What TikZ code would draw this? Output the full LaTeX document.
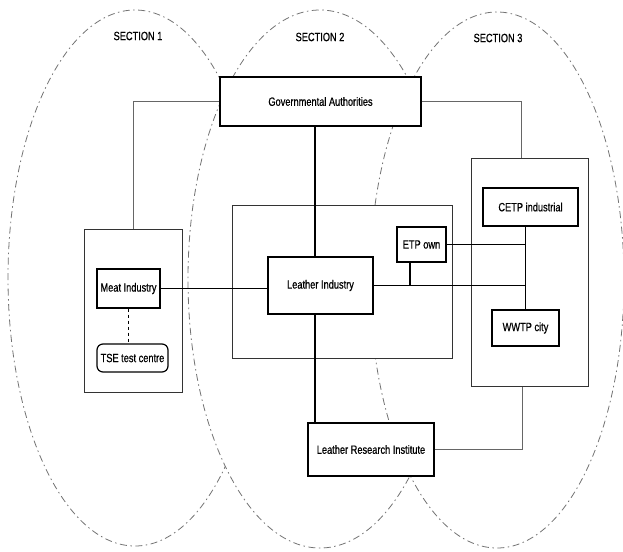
\documentclass[tikz,border=0pt]{standalone}
\usepackage{fontspec}
\setmainfont{Liberation Sans}[FakeStretch=0.77,FakeBold=0.6]
\usetikzlibrary{calc}

\begin{document}
\begin{tikzpicture}[x=1pt,y=-1pt,every node/.style={font=\fontsize{12}{14}\selectfont}]
  \tikzstyle{section}=[draw=black!55,fill=white,line width=0.8pt,
    dash pattern=on 7pt off 3.5pt on 1.5pt off 3.5pt]
  \tikzstyle{unit}=[draw,fill=white,line width=1.2pt,inner sep=2pt]
  \tikzstyle{group}=[draw=black!80,fill=white,line width=1pt]
  \tikzstyle{link}=[line width=1.1pt]
  \tikzstyle{side link}=[draw=black!60,line width=0.8pt]

  \useasboundingbox (0,0) rectangle (623,551);

  % the three sections, back to front
  \draw[section] (135,278) ellipse [x radius=127pt, y radius=268pt];
  \draw[section] (320,279) ellipse [x radius=132pt, y radius=269pt];
  \draw[section] (497,280) ellipse [x radius=127pt, y radius=268pt];

  \node (sec1) at (138,36) {SECTION 1};
  \node (sec2) at (320,37) {SECTION 2};
  \node (sec3) at (498,38) {SECTION 3};

  % groups
  \node [group, minimum width=98pt, minimum height=163pt] (meatgroup) at (133,310.5) {};
  \node [group, minimum width=220pt, minimum height=153pt] (leathergroup) at (342,281.5) {};
  \node [group, minimum width=117pt, minimum height=228pt] (wastegroup) at (529.5,272) {};

  % units
  \node [unit, minimum width=201pt, minimum height=49pt] (gov) at (320.5,101.5) {Governmental Authorities};
  \node [unit, minimum width=63pt, minimum height=39pt] (meat) at (128.5,288.5) {Meat Industry};
  \node [unit, rounded corners=6pt, minimum width=71pt, minimum height=28pt] (tse) at (132.5,358) {TSE test centre};
  \node [unit, line width=2pt, minimum width=105pt, minimum height=57pt] (leather) at (320.5,285.5) {Leather Industry};
  \node [unit, minimum width=49pt, minimum height=35pt] (etp) at (421.5,244.5) {ETP own};
  \node [unit, minimum width=95pt, minimum height=38pt] (cetp) at (530.5,207) {CETP industrial};
  \node [unit, minimum width=67pt, minimum height=36pt] (wwtp) at (525.5,328) {WWTP city};
  \node [unit, minimum width=126pt, minimum height=53pt] (lri) at (371,449.5) {Leather Research Institute};

  % connections
  \draw[side link] (gov.west) -| (meatgroup.north);
  \draw[side link] (gov.east) -| ([xshift=-8pt]wastegroup.north);
  \draw[side link] (lri.east) -| ([xshift=-7pt]wastegroup.south);
  \draw[link] ([xshift=-5.5pt]gov.south) -- ([xshift=-5.5pt]leather.north);
  \draw[link] ([xshift=-5.5pt]leather.south) -- ([xshift=-5.5pt]leather.south |- lri.north);
  \draw[link] (meat.east) -- (meat.east -| leather.west);
  \draw[link, dashed] (meat.south) -- (meat.south |- tse.north);
  \draw[link] (leather.east) -- (leather.east -| wwtp.north);
  \draw[link] (etp.east) -- (etp.east -| wwtp.north);
  \draw[link] ([xshift=-11.5pt]etp.south) -- ([xshift=-11.5pt]etp.south |- leather.east);
  \draw[link] (cetp.south -| wwtp.north) -- (wwtp.north);
\end{tikzpicture}
\end{document}
